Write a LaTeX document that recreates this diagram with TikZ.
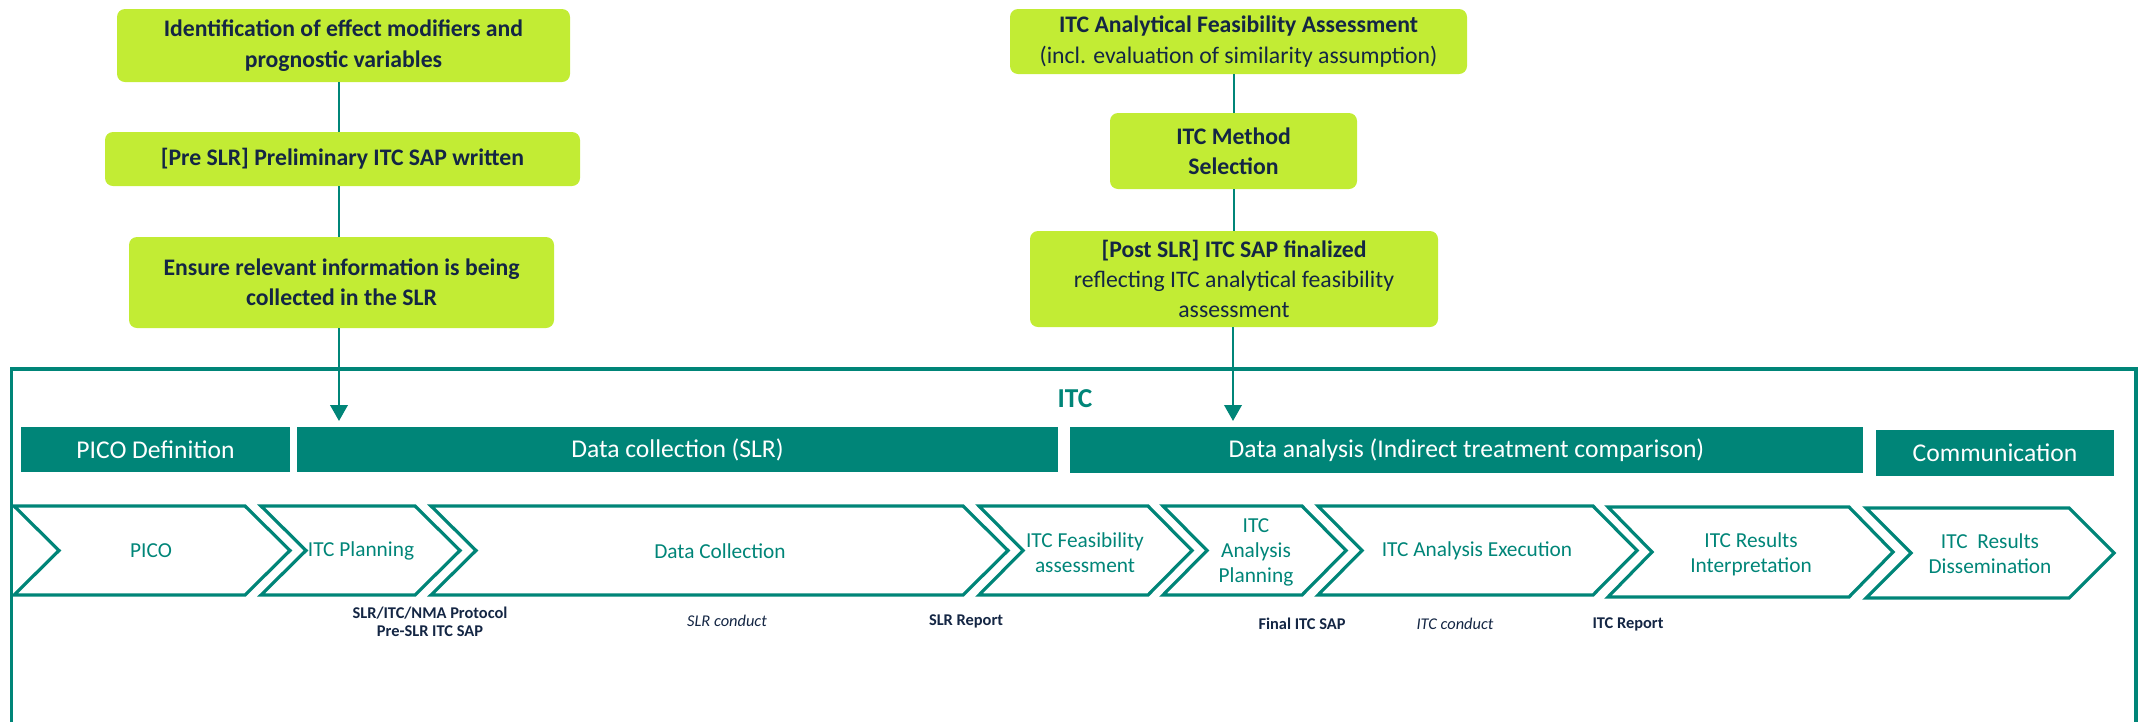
\documentclass[tikz,border=0pt]{standalone}
\usepackage{fontspec}
\setmainfont{Carlito}
\usetikzlibrary{arrows.meta}
\definecolor{itcteal}{RGB}{0,133,120}
\definecolor{itcgreen}{RGB}{194,236,52}
\definecolor{itcnavy}{RGB}{20,38,68}
% one chevron: left x, right x, top y, bottom y, point depth
\newcommand{\chevron}[5]{%
  \draw[chev] (#1,#3) -- (#2,#3) -- ({#2+#5},{(#3+#4)/2}) -- (#2,#4) -- (#1,#4)
    -- ({#1+#5},{(#3+#4)/2}) -- cycle;}
\begin{document}
\begin{tikzpicture}[x=0.75pt,y=-0.75pt,
  gbox/.style={fill=itcgreen, rounded corners=6pt, align=center, text=itcnavy,
    inner sep=2pt, font=\fontsize{17.8}{22.8}\selectfont},
  band/.style={fill=itcteal, text=white, inner sep=0pt,
    font=\fontsize{19.2}{22}\selectfont},
  chev/.style={draw=itcteal, line width=2.4pt, line join=miter},
  chevtext/.style={text=itcteal, align=center, font=\fontsize{16}{18.8}\selectfont},
  note/.style={text=itcnavy, align=center},
  notefont/.style={font=\fontsize{12.3}{13.5}\selectfont#1},
  link/.style={draw=itcteal, line width=2pt},
  flow/.style={link, -{Triangle[length=12pt,width=13pt]}}]
\useasboundingbox (0,0) rectangle (2138,722);

% outer ITC frame (open at the bottom)
\draw[itcteal, line width=2.3pt] (11.5,722) -- (11.5,369) -- (2136,369) -- (2136,722);
\node[text=itcteal, font=\fontsize{20.5}{24}\selectfont\bfseries] (itc) at (1075,399) {ITC};

% pre-SLR planning steps
\node[gbox, minimum width=453*0.75pt, minimum height=73*0.75pt] (effmod) at (343.5,45.5)
  {\bfseries Identification of effect modifiers and\\\bfseries prognostic variables};
\node[gbox, minimum width=475*0.75pt, minimum height=54*0.75pt] (presap) at (342.5,159)
  {\bfseries [Pre SLR] Preliminary ITC SAP written};
\node[gbox, minimum width=425*0.75pt, minimum height=91*0.75pt] (ensure) at (341.5,282.5)
  {\bfseries Ensure relevant information is being\\\bfseries collected in the SLR};

% post-SLR analysis steps
\node[gbox, minimum width=457*0.75pt, minimum height=65*0.75pt] (feas) at (1238.5,41.5)
  {\bfseries ITC Analytical Feasibility Assessment\\(incl. evaluation of similarity assumption)};
\node[gbox, minimum width=247*0.75pt, minimum height=76*0.75pt] (method) at (1233.5,151)
  {\bfseries ITC Method\\\bfseries Selection};
\node[gbox, minimum width=408*0.75pt, minimum height=96*0.75pt] (postsap) at (1234,279)
  {\bfseries [Post SLR] ITC SAP finalized\\reflecting ITC analytical feasibility\\assessment};

% phase bands
\node[band, minimum width=269*0.75pt, minimum height=45*0.75pt] (bpico) at (155.5,449.5) {PICO Definition};
\node[band, minimum width=761*0.75pt, minimum height=45*0.75pt] (bslr) at (677.5,449.5) {Data collection (SLR)};
\node[band, minimum width=793*0.75pt, minimum height=46*0.75pt] (bana) at (1466.5,450) {Data analysis (Indirect treatment comparison)};
\node[band, minimum width=238*0.75pt, minimum height=46*0.75pt] (bcom) at (1995,453) {Communication};

% connectors and arrows into the bands
\coordinate (slrin) at (339,421);
\coordinate (anain) at (1233,421);
\draw[link] (effmod.south -| 339,0) -- (presap.north -| 339,0);
\draw[link] (presap.south -| 339,0) -- (ensure.north -| 339,0);
\draw[flow] (ensure.south -| slrin) -- (slrin);
\draw[link] (feas.south -| 1234,0) -- (method.north -| 1234,0);
\draw[link] (method.south -| 1234,0) -- (postsap.north -| 1234,0);
\draw[flow] (postsap.south -| anain) -- (anain);

% process chevrons
\chevron{14}{245}{506}{595}{45}
\chevron{261}{415}{506}{595}{45}
\chevron{431}{963}{506}{595}{45}
\chevron{979}{1148}{506}{595}{44}
\chevron{1163}{1302}{506}{595}{44}
\chevron{1318}{1593}{506}{595}{44}
\chevron{1608}{1849}{507}{597}{44}
\chevron{1866}{2069}{508}{598}{45}

\node[chevtext] (cpico) at (151,551) {PICO};
\node[chevtext] (cplan) at (361,551) {ITC Planning};
\node[chevtext] (ccoll) at (720,551) {Data Collection};
\node[chevtext] (cfeas) at (1085,553) {ITC Feasibility\\assessment};
\node[chevtext] (capl) at (1256,552) {ITC\\Analysis\\Planning};
\node[chevtext] (cexe) at (1477,551) {ITC Analysis Execution};
\node[chevtext] (cint) at (1751,554) {ITC Results\\Interpretation};
\node[chevtext] (cdis) at (1990,554) {ITC~~Results\\Dissemination};

% deliverables under the chevrons
\node[note, notefont=\bfseries] (protocol) at (430,622) {SLR/ITC/NMA Protocol\\Pre-SLR ITC SAP};
\node[note, notefont=\itshape] (slrconduct) at (727,621) {SLR conduct};
\node[note, notefont=\bfseries] (slrreport) at (966,621) {SLR Report};
\node[note, notefont=\bfseries] (finalsap) at (1302,624) {Final ITC SAP};
\node[note, notefont=\itshape] (itcconduct) at (1455,624) {ITC conduct};
\node[note, notefont=\bfseries] (itcreport) at (1628,624) {ITC Report};
\end{tikzpicture}
\end{document}
